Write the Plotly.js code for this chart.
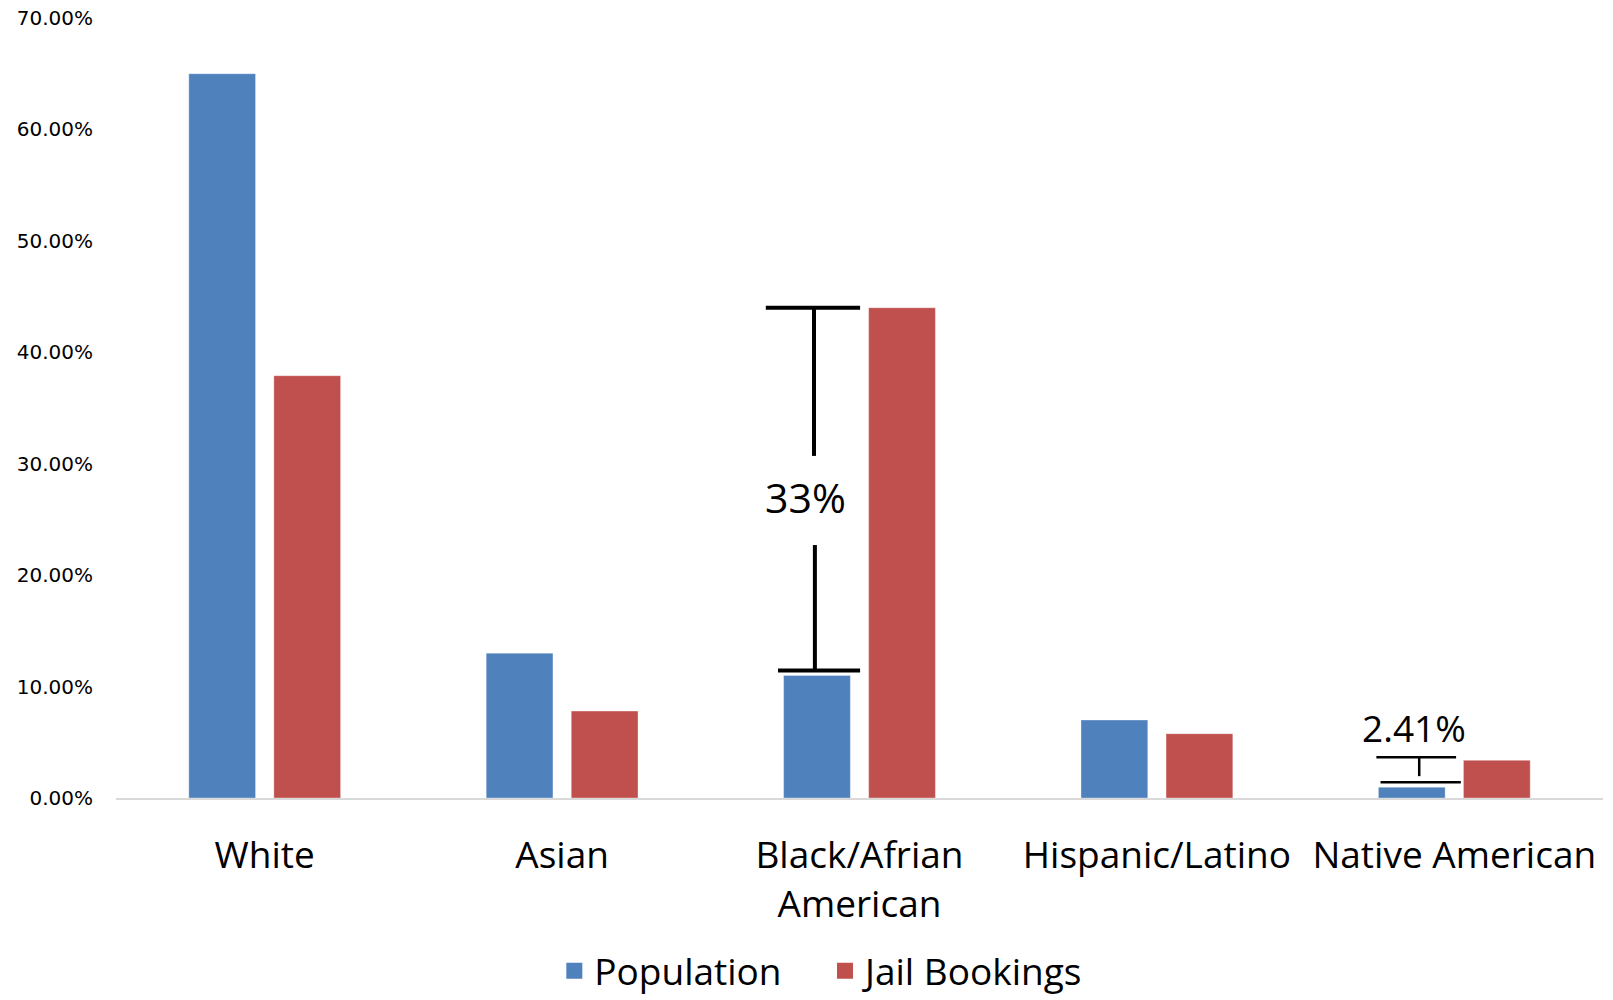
<!DOCTYPE html>
<html>
<head>
<meta charset="utf-8">
<script src="https://cdn.plot.ly/plotly-3.0.1.min.js"></script>
<style>
  html, body { margin: 0; padding: 0; background: #ffffff; }
  #chart { width: 1613px; height: 1000px; }
</style>
</head>
<body>
<div id="chart"></div>
<script>
// ---- Data (percent values) ----
const categories = ["White", "Asian", "Black/Afrian<br>American", "Hispanic/Latino", "Native American"];
const population = [65.0, 13.0, 11.0, 7.0, 0.97];
const jailBookings = [37.9, 7.8, 44.0, 5.77, 3.38];
const yTickVals = [0, 10, 20, 30, 40, 50, 60, 70];
const yTickText = ["0.00%", "10.00%", "20.00%", "30.00%", "40.00%", "50.00%", "60.00%", "70.00%"];
const seriesNames = ["Population", "Jail Bookings"];
const gapLabels = ["33%", "2.41%"];

const BLUE = "#4F81BD";
const RED = "#C0504D";
const NB = "\u00a0";

const traces = [
  {
    type: "bar",
    name: seriesNames[0],
    x: categories,
    y: population,
    marker: { color: BLUE, line: { color: "rgba(255,255,255,0.35)", width: 1 } },
    showlegend: false,
    hoverinfo: "skip"
  },
  {
    type: "bar",
    name: seriesNames[1],
    x: categories,
    y: jailBookings,
    marker: { color: RED, line: { color: "rgba(255,255,255,0.35)", width: 1 } },
    showlegend: false,
    hoverinfo: "skip"
  },
  // legend entries (larger square keys)
  {
    type: "scatter", mode: "markers", name: seriesNames[0] + NB + NB + NB + NB,
    x: [null], y: [null],
    marker: { symbol: "square", size: 23, color: BLUE },
    hoverinfo: "skip"
  },
  {
    type: "scatter", mode: "markers", name: seriesNames[1],
    x: [null], y: [null],
    marker: { symbol: "square", size: 23, color: RED },
    hoverinfo: "skip"
  }
];

// Bracket annotations derived from the data values
const bi = 2; // Black/African American
const ni = 4; // Native American
const blackMid = (jailBookings[bi] + population[bi]) / 2;
const nativeTop = jailBookings[ni] + 0.27;
const nativeBot = population[ni] + 0.44;

const blk = { color: "#000000", width: 4 };
const blkThin = { color: "#000000", width: 2.5 };

const shapes = [
  // 33% bracket
  { type: "line", xref: "x", yref: "y", x0: bi - 0.315, x1: bi + 0.002, y0: jailBookings[bi], y1: jailBookings[bi], line: blk },
  { type: "line", xref: "x", yref: "y", x0: bi - 0.153, x1: bi - 0.153, y0: jailBookings[bi], y1: blackMid + 3.2, line: blk },
  { type: "line", xref: "x", yref: "y", x0: bi - 0.150, x1: bi - 0.150, y0: blackMid - 4.8, y1: population[bi] + 0.45, line: blk },
  { type: "line", xref: "x", yref: "y", x0: bi - 0.274, x1: bi + 0.002, y0: population[bi] + 0.45, y1: population[bi] + 0.45, line: blk },
  // 2.41% bracket
  { type: "line", xref: "x", yref: "y", x0: ni - 0.262, x1: ni + 0.006, y0: nativeTop, y1: nativeTop, line: blkThin },
  { type: "line", xref: "x", yref: "y", x0: ni - 0.118, x1: ni - 0.118, y0: nativeTop, y1: nativeBot + 0.55, line: blkThin },
  { type: "line", xref: "x", yref: "y", x0: ni - 0.248, x1: ni + 0.022, y0: nativeBot, y1: nativeBot, line: blkThin }
];

const annotations = [
  { xref: "x", yref: "y", x: bi - 0.182, y: blackMid - 0.45, text: gapLabels[0], showarrow: false,
    font: { family: "Open Sans, sans-serif", size: 41, color: "#000000" } },
  { xref: "x", yref: "y", x: ni - 0.134, y: nativeTop + 2.7, text: gapLabels[1], showarrow: false,
    font: { family: "Open Sans, sans-serif", size: 37, color: "#000000" } }
];

const layout = {
  width: 1613,
  height: 1000,
  margin: { l: 116, r: 10, t: 17.5, b: 202, pad: 0, autoexpand: false },
  paper_bgcolor: "#ffffff",
  plot_bgcolor: "#ffffff",
  barmode: "group",
  bargap: 0.428,
  bargroupgap: 0.215,
  showlegend: true,
  legend: {
    orientation: "h",
    x: 0.475,
    xanchor: "center",
    y: -0.222,
    yanchor: "middle",
    font: { family: "Open Sans, sans-serif", size: 37, color: "#000000" },
    itemwidth: 30,
    itemsizing: "trace",
    bgcolor: "rgba(0,0,0,0)"
  },
  xaxis: {
    type: "category",
    showgrid: false,
    zeroline: false,
    showline: true,
    linecolor: "#d9d9d9",
    linewidth: 2,
    ticks: "",
    ticklabelstandoff: 24,
    tickfont: { family: "Open Sans, sans-serif", size: 37, color: "#000000" },
    fixedrange: true
  },
  yaxis: {
    range: [0, 70],
    tickvals: yTickVals,
    ticktext: yTickText,
    showgrid: false,
    zeroline: false,
    showline: false,
    ticks: "",
    ticklabelstandoff: 22,
    tickfont: { family: "DejaVu Sans, sans-serif", size: 20, color: "#000000" },
    fixedrange: true
  },
  shapes: shapes,
  annotations: annotations,
  hovermode: false
};

Plotly.newPlot("chart", traces, layout, { staticPlot: true, displayModeBar: false });
</script>
</body>
</html>
